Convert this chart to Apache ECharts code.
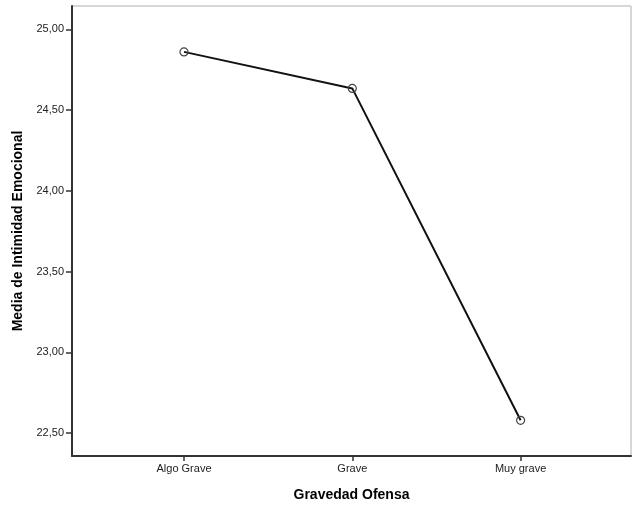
<!DOCTYPE html>
<html><head><meta charset="utf-8">
<script src="https://cdn.jsdelivr.net/npm/echarts@6/dist/echarts.min.js"></script>
<style>html,body{margin:0;padding:0;background:#fff}#c{width:633px;height:506px}</style>
</head><body><div id="c"></div>
<script>
var categories = ['Algo Grave', 'Grave', 'Muy grave'];
var values = [24.86, 24.634, 22.58];
var yTicks = [22.5, 23.0, 23.5, 24.0, 24.5, 25.0];
var xTitle = 'Gravedad Ofensa';
var yTitle = 'Media de Intimidad Emocional';

var chart = echarts.init(document.getElementById('c'), null, {renderer: 'canvas'});
var font = 'Liberation Sans, Arial, sans-serif';
chart.setOption({
  animation: false,
  backgroundColor: '#fff',
  grid: {left: 72, top: 6, right: 2, bottom: 50, outerBoundsMode: 'none', containLabel: false,
    show: true, borderColor: '#b0b0b0', borderWidth: 1, backgroundColor: 'transparent'},
  xAxis: {
    type: 'value', min: -0.6655, max: 2.656,
    name: xTitle, nameLocation: 'middle', nameGap: 32,
    nameTextStyle: {fontFamily: font, fontSize: 14, fontWeight: 'bold', color: '#000'},
    axisLine: {show: true, onZero: false, lineStyle: {color: '#333', width: 2}},
    axisTick: {show: true, length: 5, customValues: [0, 1, 2], lineStyle: {color: '#333', width: 1.5}},
    axisLabel: {customValues: [0, 1, 2], margin: 7, fontFamily: font, fontSize: 11, color: '#222',
      formatter: function (v) { return categories[Math.round(v)] || ''; }},
    splitLine: {show: false}
  },
  yAxis: {
    type: 'value', min: 22.359, max: 25.144,
    name: yTitle, nameLocation: 'middle', nameGap: 45, nameRotate: 90,
    nameTextStyle: {fontFamily: font, fontSize: 14, fontWeight: 'bold', color: '#000'},
    axisLine: {show: true, onZero: false, lineStyle: {color: '#333', width: 2}},
    axisTick: {show: true, length: 6, customValues: yTicks, lineStyle: {color: '#333', width: 1.5}},
    axisLabel: {customValues: yTicks, margin: 8, fontFamily: font, fontSize: 11, color: '#222',
      formatter: function (v) { return v.toFixed(2).replace('.', ','); }},
    splitLine: {show: false}
  },
  series: [{
    type: 'line',
    data: values.map(function (v, i) { return [i, v]; }),
    lineStyle: {color: '#111', width: 2},
    symbol: 'circle', symbolSize: 8, showAllSymbol: true,
    itemStyle: {color: 'rgba(255,255,255,0)', borderColor: '#444', borderWidth: 1.2},
    emphasis: {disabled: true}
  }]
});
</script></body></html>
